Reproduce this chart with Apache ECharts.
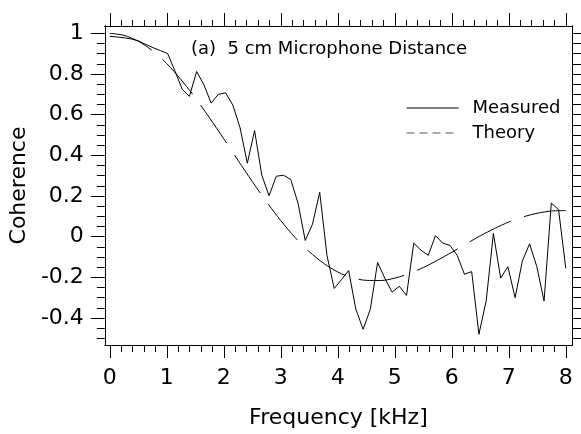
<!DOCTYPE html>
<html>
<head>
<meta charset="utf-8">
<script src="https://cdn.jsdelivr.net/npm/echarts@6/dist/echarts.min.js"></script>
<style>
  html, body { margin: 0; padding: 0; background: #fff; }
  #chart { width: 581px; height: 434px; }
</style>
</head>
<body>
<div id="chart"></div>
<script>
    // measured coherence, 64 bins between 0 and 8 kHz
    var measFreq = [0, 0.127, 0.254, 0.381, 0.508, 0.635, 0.762, 0.889, 1.016, 1.143,
        1.270, 1.397, 1.524, 1.651, 1.778, 1.905, 2.032, 2.159, 2.286, 2.413,
        2.540, 2.667, 2.794, 2.921, 3.048, 3.175, 3.302, 3.429, 3.556, 3.683,
        3.810, 3.937, 4.063, 4.190, 4.317, 4.444, 4.571, 4.698, 4.825, 4.952,
        5.079, 5.206, 5.333, 5.460, 5.587, 5.714, 5.841, 5.968, 6.095, 6.222,
        6.349, 6.476, 6.603, 6.730, 6.857, 6.984, 7.111, 7.238, 7.365, 7.492,
        7.619, 7.746, 7.873, 8.0];
    var measured = [0.985, 0.982, 0.978, 0.972, 0.962, 0.945, 0.929, 0.915, 0.900, 0.815,
        0.725, 0.690, 0.812, 0.747, 0.657, 0.700, 0.707, 0.647, 0.535, 0.361,
        0.522, 0.302, 0.201, 0.297, 0.302, 0.281, 0.165, -0.019, 0.061, 0.218,
        -0.092, -0.255, -0.212, -0.167, -0.357, -0.456, -0.357, -0.127, -0.204, -0.273,
        -0.244, -0.289, -0.032, -0.067, -0.092, 0.005, -0.032, -0.043, -0.092, -0.185,
        -0.172, -0.480, -0.317, 0.016, -0.204, -0.148, -0.300, -0.120, -0.035, -0.148,
        -0.317, 0.165, 0.133, -0.156];

    // theory curve
    var theoryFreq = [0, 0.25, 0.5, 0.75, 1, 1.25, 1.5, 1.75, 2, 2.25, 2.5, 2.75, 3, 3.25, 3.5, 3.75,
        4, 4.25, 4.5, 4.75, 5, 5.25, 5.5, 5.75, 6, 6.25, 6.5, 6.75, 7, 7.25, 7.5, 7.75, 8];
    var theory = [1, 0.990, 0.961, 0.914, 0.851, 0.772, 0.683, 0.584, 0.481, 0.375, 0.271, 0.171,
        0.079, -0.004, -0.074, -0.131, -0.174, -0.202, -0.215, -0.216, -0.204, -0.182, -0.152,
        -0.116, -0.077, -0.036, 0.004, 0.040, 0.072, 0.097, 0.115, 0.126, 0.128];

    var xMajor = [0, 1, 2, 3, 4, 5, 6, 7, 8];
    var xMinor = [0.2, 0.4, 0.6, 0.8, 1.2, 1.4, 1.6, 1.8, 2.2, 2.4, 2.6, 2.8, 3.2, 3.4, 3.6, 3.8,
        4.2, 4.4, 4.6, 4.8, 5.2, 5.4, 5.6, 5.8, 6.2, 6.4, 6.6, 6.8, 7.2, 7.4, 7.6, 7.8];
    var yMajor = [-0.4, -0.2, 0, 0.2, 0.4, 0.6, 0.8, 1];
    var yMinor = [-0.5, -0.45, -0.35, -0.3, -0.25, -0.15, -0.1, -0.05, 0.05, 0.1, 0.15, 0.25, 0.3, 0.35,
        0.45, 0.5, 0.55, 0.65, 0.7, 0.75, 0.85, 0.9, 0.95];

    var FONT = 'DejaVu Sans';
    var X_MIN = -0.087, X_MAX = 8.109;
    var Y_MIN = -0.533, Y_MAX = 1.036;

    var chart = echarts.init(document.getElementById('chart'));

    function xAx(pos, ticks, len, labels) {
        return {
            type: 'value', position: pos, min: X_MIN, max: X_MAX,
            axisLine: { show: true, onZero: false, lineStyle: { color: '#000', width: 1 } },
            axisTick: { show: true, inside: false, length: len, customValues: ticks,
                lineStyle: { color: '#000', width: 1 } },
            axisLabel: labels ? {
                show: true, customValues: xMajor, margin: 22, color: '#000',
                fontFamily: FONT, fontSize: 22
            } : { show: false },
            splitLine: { show: false },
            name: labels ? 'Frequency [kHz]' : '',
            nameLocation: 'middle', nameGap: 62,
            nameTextStyle: { color: '#000', fontFamily: FONT, fontSize: 22 }
        };
    }
    function yAx(pos, ticks, len, labels) {
        return {
            type: 'value', position: pos, min: Y_MIN, max: Y_MAX,
            axisLine: { show: true, onZero: false, lineStyle: { color: '#000', width: 1 } },
            axisTick: { show: true, inside: false, length: len, customValues: ticks,
                lineStyle: { color: '#000', width: 1 } },
            axisLabel: labels ? {
                show: true, customValues: yMajor, margin: 21, color: '#000',
                fontFamily: FONT, fontSize: 22,
                formatter: function (v) { return String(Math.round(v * 10) / 10); }
            } : { show: false },
            splitLine: { show: false },
            name: labels ? 'Coherence' : '',
            nameLocation: 'middle', nameGap: 70,
            nameTextStyle: { color: '#000', fontFamily: FONT, fontSize: 22 }
        };
    }

    chart.setOption({
        animation: false,
        backgroundColor: '#fff',
        grid: { left: 100, right: 9, top: 26, bottom: 83, containLabel: false },
        title: {
            text: '(a)  5 cm Microphone Distance',
            left: 191, top: 40, padding: 0,
            textStyle: { color: '#000', fontFamily: FONT, fontSize: 18, fontWeight: 'normal' }
        },
        legend: {
            orient: 'vertical', left: 406, top: 98, padding: 0,
            itemWidth: 52, itemHeight: 14, itemGap: 5,
            itemStyle: { opacity: 0 },
            textStyle: { color: '#000', fontFamily: FONT, fontSize: 18, lineHeight: 20,
                padding: [0, 0, 0, 9] },
            data: [
                { name: 'Measured', itemStyle: { opacity: 0 },
                  lineStyle: { color: '#000', width: 1 } },
                { name: 'Theory', itemStyle: { opacity: 0 },
                  lineStyle: { type: [8, 5], color: '#555', width: 1 } }
            ]
        },
        xAxis: [
            xAx('bottom', xMajor, 13, true),
            xAx('bottom', xMinor, 7, false),
            xAx('top', xMajor, 13, false),
            xAx('top', xMinor, 6, false)
        ],
        yAxis: [
            yAx('left', yMajor, 14, true),
            yAx('left', yMinor, 8, false),
            yAx('right', yMajor, 9, false),
            yAx('right', yMinor, 9, false)
        ],
        series: [
            {
                name: 'Measured', type: 'line', symbol: 'none',
                lineStyle: { color: '#000', width: 1 },
                itemStyle: { color: '#000' },
                data: measFreq.map(function (f, i) { return [f, measured[i]]; })
            },
            {
                name: 'Theory', type: 'line', symbol: 'none', smooth: 0.3,
                lineStyle: { color: '#000', width: 1, type: [46, 14] },
                itemStyle: { color: '#000' },
                data: theoryFreq.map(function (f, i) { return [f, theory[i]]; })
            }
        ]
    });
</script>
</body>
</html>
